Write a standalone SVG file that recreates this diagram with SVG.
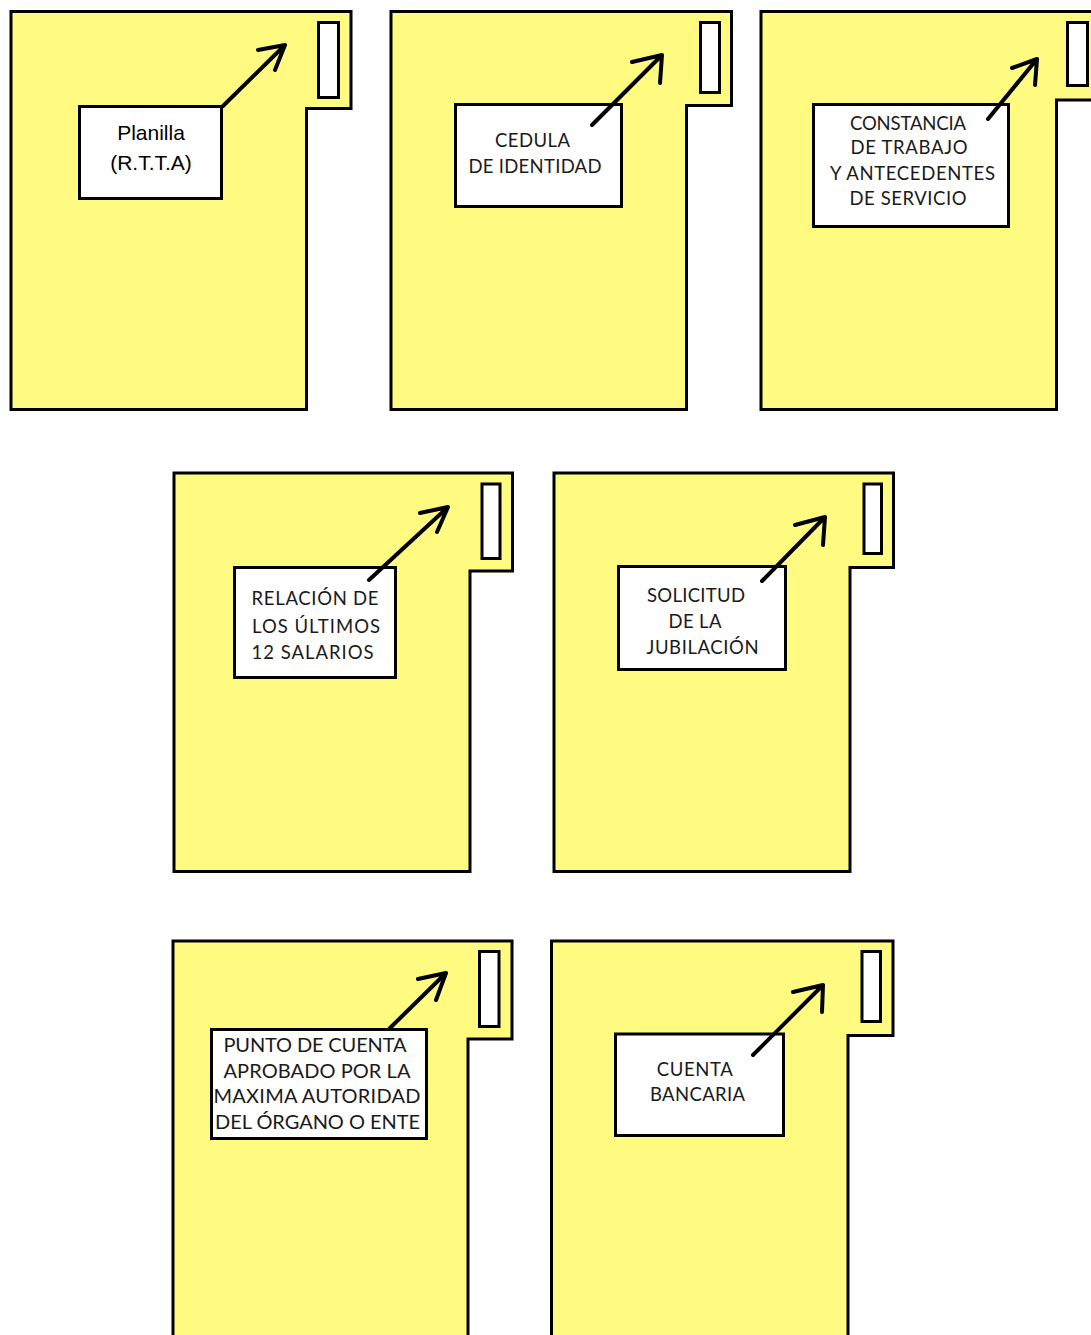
<svg xmlns="http://www.w3.org/2000/svg" width="1091" height="1335" viewBox="0 0 1091 1335">
<style>
.folder{fill:#FFFB80;stroke:#000;stroke-width:3;stroke-linejoin:miter}
.slot{fill:#fff;stroke:#000;stroke-width:3}
.box{fill:#fff;stroke:#000;stroke-width:3}
.arrow{fill:none;stroke:#000;stroke-width:4;stroke-linecap:round;stroke-linejoin:round}
.t{font-family:Lato,"Open Sans",sans-serif;font-size:18.5px;fill:#1a1a1a;text-anchor:middle}
.t6{font-size:20px}
.a{font-family:"Liberation Sans",Arial,sans-serif;font-size:21px;fill:#000;text-anchor:middle}
</style>
<rect width="1091" height="1335" fill="#fff"/>
<g id="folder1">
<path class="folder" d="M11,11.5 H351 V108.5 H306.5 V409.5 H11 Z"/>
<rect class="slot" x="318.5" y="22.5" width="20" height="75"/>
<rect class="box" x="79.5" y="106.5" width="142" height="92"/>
<text class="a" x="151" y="140">Planilla</text>
<text class="a" x="151" y="170">(R.T.T.A)</text>
</g>
<g id="folder2">
<path class="folder" d="M391,11.5 H731.5 V105.5 H686.5 V409.5 H391 Z"/>
<rect class="slot" x="700.5" y="22.5" width="19" height="70"/>
<rect class="box" x="455.5" y="104.5" width="166" height="102"/>
<text class="t" x="532.5" y="147" textLength="75">CEDULA</text>
<text class="t" x="535" y="173" textLength="133">DE IDENTIDAD</text>
</g>
<g id="folder3">
<path class="folder" d="M761,11.5 H1101 V100 H1056.5 V409.5 H761 Z"/>
<rect class="slot" x="1067.5" y="22.5" width="20" height="63"/>
<rect class="box" x="813.5" y="104.5" width="195" height="122"/>
<text class="t" x="908" y="130" textLength="116">CONSTANCIA</text>
<text class="t" x="909" y="154" textLength="117">DE TRABAJO</text>
<text class="t" x="912.5" y="180" textLength="165">Y ANTECEDENTES</text>
<text class="t" x="908" y="205" textLength="117">DE SERVICIO</text>
</g>
<g id="folder4">
<path class="folder" d="M174,473 H512.5 V571 H470 V871.5 H174 Z"/>
<rect class="slot" x="482" y="484" width="18" height="74.5"/>
<rect class="box" x="234.5" y="567.5" width="161" height="110"/>
<text class="t" x="315" y="605" textLength="127">RELACIÓN DE</text>
<text class="t" x="316" y="632.5" textLength="128">LOS ÚLTIMOS</text>
<text class="t" x="312.5" y="659" textLength="122">12 SALARIOS</text>
</g>
<g id="folder5">
<path class="folder" d="M554,473 H893.5 V567.5 H850 V871.5 H554 Z"/>
<rect class="slot" x="864" y="484" width="17.5" height="69.5"/>
<rect class="box" x="618.5" y="566.5" width="167" height="103"/>
<text class="t" x="696" y="601.5" textLength="98">SOLICITUD</text>
<text class="t" x="695" y="628" textLength="53">DE LA</text>
<text class="t" x="702.5" y="654" textLength="112">JUBILACIÓN</text>
</g>
<g id="folder6">
<path class="folder" d="M173,941 H512 V1039 H468 V1345 H173 Z"/>
<rect class="slot" x="479.5" y="951.5" width="19.5" height="75"/>
<rect class="box" x="211.5" y="1029.5" width="215" height="109"/>
<text class="t t6" x="315" y="1051.5" textLength="183">PUNTO DE CUENTA</text>
<text class="t t6" x="317" y="1078" textLength="187">APROBADO POR LA</text>
<text class="t t6" x="317" y="1103" textLength="207">MAXIMA AUTORIDAD</text>
<text class="t t6" x="317.5" y="1129" textLength="205">DEL ÓRGANO O ENTE</text>
</g>
<g id="folder7">
<path class="folder" d="M551.5,941 H893 V1035.5 H848 V1345 H551.5 Z"/>
<rect class="slot" x="862" y="951.5" width="18.5" height="70"/>
<rect class="box" x="615.5" y="1034" width="168" height="101.5"/>
<text class="t" x="694.7" y="1075.5" textLength="76">CUENTA</text>
<text class="t" x="697.5" y="1101" textLength="95">BANCARIA</text>
</g>
<g id="connectors">
<path class="arrow" d="M223,106 L285,45 M258,50 L285,45 L275,70"/>
<path class="arrow" d="M592,125 L662,55 M632,62 L662,55 L660,83"/>
<path class="arrow" d="M988,119 L1037,59 M1012,68 L1037,59 L1035,85"/>
<path class="arrow" d="M369,580 L448,507 M420,513 L448,507 L437,532"/>
<path class="arrow" d="M762,581 L825,517 M795,525 L825,517 L823,545"/>
<path class="arrow" d="M390,1028 L446,973 M418,979 L446,973 L436,1000"/>
<path class="arrow" d="M753,1055 L823,985 M793,992 L823,985 L822,1012"/>
</g>
</svg>
